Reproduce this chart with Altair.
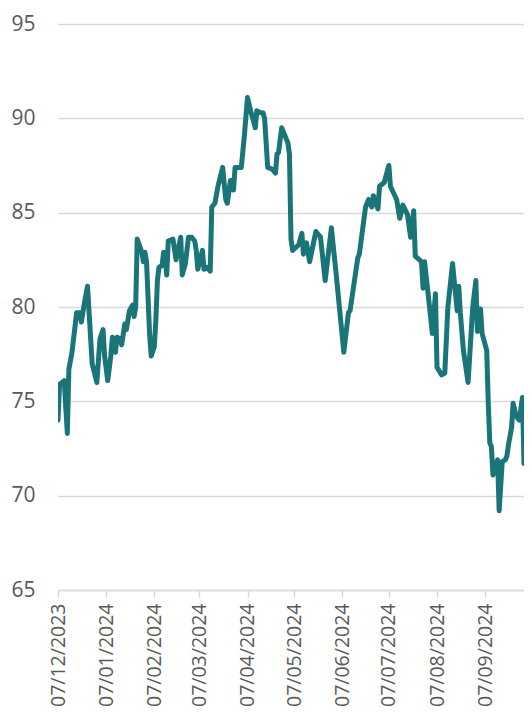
import altair as alt
import pandas as pd

dates = [
    "2023-12-07", "2023-12-08", "2023-12-11", "2023-12-13", "2023-12-14", "2023-12-16",
    "2023-12-19", "2023-12-21", "2023-12-22", "2023-12-24", "2023-12-26", "2023-12-29",
    "2024-01-01", "2024-01-03", "2024-01-05", "2024-01-06", "2024-01-08", "2024-01-10",
    "2024-01-11", "2024-01-13", "2024-01-14", "2024-01-16", "2024-01-17", "2024-01-19",
    "2024-01-20", "2024-01-22", "2024-01-24", "2024-01-25", "2024-01-26", "2024-01-27",
    "2024-01-30", "2024-01-31", "2024-02-01", "2024-02-02", "2024-02-04", "2024-02-05",
    "2024-02-07", "2024-02-08", "2024-02-09", "2024-02-10", "2024-02-12", "2024-02-13",
    "2024-02-14", "2024-02-15", "2024-02-16", "2024-02-19", "2024-02-21", "2024-02-24",
    "2024-02-25", "2024-02-27", "2024-02-29", "2024-03-02", "2024-03-04", "2024-03-05",
    "2024-03-06", "2024-03-09", "2024-03-10", "2024-03-12", "2024-03-14", "2024-03-15",
    "2024-03-17", "2024-03-19", "2024-03-22", "2024-03-24", "2024-03-25", "2024-03-27",
    "2024-03-28", "2024-03-29", "2024-03-30", "2024-04-03", "2024-04-05", "2024-04-07",
    "2024-04-09", "2024-04-10", "2024-04-12", "2024-04-13", "2024-04-15", "2024-04-17",
    "2024-04-18", "2024-04-20", "2024-04-23", "2024-04-25", "2024-04-26", "2024-04-27",
    "2024-04-29", "2024-05-03", "2024-05-04", "2024-05-05", "2024-05-06", "2024-05-10",
    "2024-05-12", "2024-05-13", "2024-05-15", "2024-05-17", "2024-05-21", "2024-05-24",
    "2024-05-27", "2024-05-31", "2024-06-03", "2024-06-08", "2024-06-11", "2024-06-12",
    "2024-06-17", "2024-06-18", "2024-06-22", "2024-06-24", "2024-06-26", "2024-06-27",
    "2024-06-30", "2024-07-01", "2024-07-04", "2024-07-07", "2024-07-08", "2024-07-12",
    "2024-07-14", "2024-07-16", "2024-07-19", "2024-07-21", "2024-07-23", "2024-07-24",
    "2024-07-28", "2024-07-29", "2024-07-30", "2024-08-01", "2024-08-04", "2024-08-06",
    "2024-08-07", "2024-08-10", "2024-08-12", "2024-08-14", "2024-08-17", "2024-08-20",
    "2024-08-21", "2024-08-22", "2024-08-24", "2024-08-27", "2024-08-30", "2024-09-01",
    "2024-09-02", "2024-09-04", "2024-09-05", "2024-09-08", "2024-09-09", "2024-09-10",
    "2024-09-11", "2024-09-12", "2024-09-15", "2024-09-16", "2024-09-18", "2024-09-20",
    "2024-09-21", "2024-09-22", "2024-09-24", "2024-09-25", "2024-09-27", "2024-09-29",
    "2024-10-01", "2024-10-02", "2024-10-05", "2024-10-07",
]

values = [
    74.0, 75.9, 76.1, 73.3, 76.7, 77.6,
    79.7, 79.7, 79.2, 80.2, 81.1, 77.0,
    76.0, 78.3, 78.8, 77.4, 76.1, 77.4,
    78.4, 77.6, 78.4, 78.3, 78.0, 79.1,
    78.8, 79.8, 80.1, 79.5, 80.0, 83.6,
    82.9, 82.4, 82.9, 82.4, 78.5, 77.4,
    77.9, 79.3, 81.4, 82.1, 82.2, 82.9,
    82.6, 81.7, 83.5, 83.6, 82.5, 83.7,
    81.7, 82.3, 83.7, 83.7, 83.5, 83.0,
    82.0, 83.0, 82.0, 82.1, 81.9, 85.3,
    85.5, 86.4, 87.4, 85.7, 85.5, 86.7,
    86.7, 86.2, 87.4, 87.4, 89.1, 91.1,
    90.4, 90.1, 89.5, 90.4, 90.3, 90.3,
    90.0, 87.4, 87.3, 87.1, 88.1, 88.2,
    89.5, 88.7, 88.1, 83.6, 83.0, 83.3,
    83.9, 82.8, 83.4, 82.4, 84.0, 83.7,
    81.4, 84.2, 81.8, 77.6, 79.7, 79.8,
    82.6, 82.8, 85.3, 85.7, 85.3, 85.9,
    85.2, 86.4, 86.6, 87.5, 86.4, 85.7,
    84.7, 85.4, 84.9, 83.7, 85.1, 82.7,
    82.4, 81.0, 82.4, 80.9, 78.6, 80.7,
    76.8, 76.4, 76.5, 80.0, 82.3, 79.8,
    81.1, 79.7, 77.7, 76.0, 80.0, 81.4,
    78.7, 79.9, 78.6, 77.7, 74.9, 72.8,
    72.6, 71.1, 71.9, 69.2, 71.8, 71.9,
    72.1, 72.7, 73.6, 74.9, 74.2, 74.0,
    75.2, 71.7, 71.9, 73.9,
]

tick_dates = [
    (2023, 12, 7), (2024, 1, 7), (2024, 2, 7), (2024, 3, 7), (2024, 4, 7),
    (2024, 5, 7), (2024, 6, 7), (2024, 7, 7), (2024, 8, 7), (2024, 9, 7),
]
x_start = (2023, 12, 7)
x_end = (2024, 10, 2)
y_ticks = [65, 70, 75, 80, 85, 90, 95]

df = pd.DataFrame({"date": [d + "T00:00:00" for d in dates], "value": values})


def dt(t):
    return alt.DateTime(year=t[0], month=t[1], date=t[2])


line = alt.Chart(df).mark_line(
    color="#1a7578", strokeWidth=5, strokeJoin="round", strokeCap="round", clip=True
).encode(
    x=alt.X(
        "date:T",
        scale=alt.Scale(domain=[dt(x_start), dt(x_end)]),
        axis=alt.Axis(
            values=[dt(t) for t in tick_dates],
            format="%d/%m/%Y",
            labelAngle=270,
            labelAlign="right",
            labelBaseline="middle",
            labelFont="Open Sans",
            labelFontSize=19.5,
            labelColor="#595959",
            labelPadding=6,
            labelOverlap=False,
            labelFlush=False,
            tickSize=7,
            tickColor="#d9d9d9",
            tickWidth=1.5,
            domainColor="#d9d9d9",
            domainWidth=1.5,
            grid=False,
            title=None,
        ),
    ),
    y=alt.Y(
        "value:Q",
        scale=alt.Scale(domain=[65, 95], nice=False, zero=False),
        axis=alt.Axis(
            values=y_ticks,
            labelFont="Open Sans",
            labelFontSize=21,
            labelColor="#595959",
            labelPadding=23,
            ticks=False,
            domain=False,
            grid=True,
            gridColor="#d9d9d9",
            gridWidth=1.5,
            title=None,
        ),
    ),
)

chart = line.properties(
    width=466,
    height=566,
    autosize=alt.AutoSizeParams(type="none"),
    padding={"left": 50, "top": 16, "right": 0, "bottom": 118},
    background="white",
).configure_view(stroke=None)

chart.save("out.html", embed_options={"renderer": "svg", "actions": False})
